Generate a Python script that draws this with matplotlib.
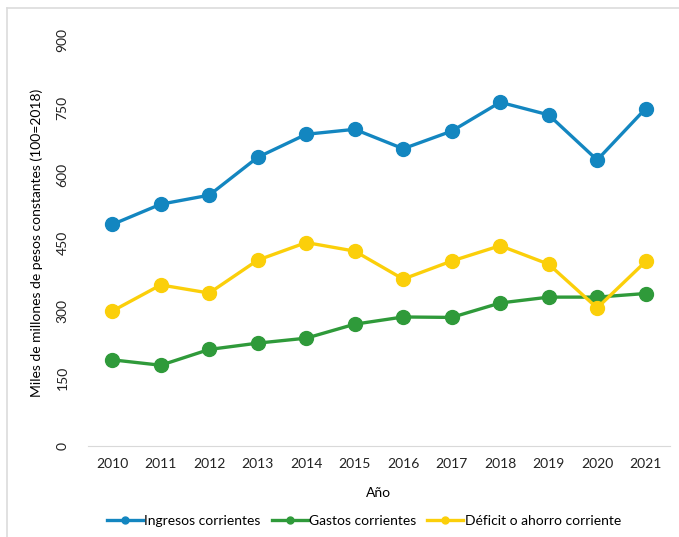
import matplotlib.pyplot as plt
from matplotlib.lines import Line2D

years = ["2010", "2011", "2012", "2013", "2014", "2015",
         "2016", "2017", "2018", "2019", "2020", "2021"]
ingresos = [491, 536, 556, 640, 691, 702, 659, 698, 762, 734, 634, 748]
gastos = [191, 179, 214, 228, 239, 270, 286, 285, 317, 330, 330, 338]
deficit = [299, 357, 339, 412, 451, 432, 370, 410, 444, 403, 306, 409]
yticks = [0, 150, 300, 450, 600, 750, 900]

plt.rcParams['font.family'] = ['Lato', 'DejaVu Sans']

fig = plt.figure(figsize=(6.79, 5.37), dpi=100)
ax = fig.add_axes([0.1296, 0.1695, 0.857, 0.756])

x = range(len(years))
ax.plot(x, ingresos, color="#1386c0", lw=2.4, marker="o", ms=10, label="Ingresos corrientes")
ax.plot(x, gastos, color="#2f9a3a", lw=2.4, marker="o", ms=10, label="Gastos corrientes")
ax.plot(x, deficit, color="#fbcf0a", lw=2.4, marker="o", ms=10, label="Déficit o ahorro corriente")

ax.set_xlim(-0.5, len(years) - 0.5)
ax.set_ylim(0, 900)
ax.set_xticks(list(x))
ax.set_xticklabels(years)
ax.set_yticks(yticks)
ax.set_yticklabels([str(t) for t in yticks], rotation=90, va="center")
ax.tick_params(axis="both", length=0, labelsize=10, colors="#222222")
ax.tick_params(axis="y", pad=14)
ax.tick_params(axis="x", pad=9)

for s in ["top", "right", "left"]:
    ax.spines[s].set_visible(False)
ax.spines["bottom"].set_color("#d9d9d9")

ax.set_xlabel("Año", fontsize=10, labelpad=12)
ax.set_ylabel("Miles de millones de pesos constantes (100=2018)", fontsize=10, labelpad=10)

ax.legend(loc="upper center", bbox_to_anchor=(0.474, -0.14), ncol=3, frameon=False,
          fontsize=10, markerscale=0.5, handlelength=2.6, handletextpad=0.1, columnspacing=0.8)

# outer frame: only left and top edges visible in the reference
fig.add_artist(Line2D([7 / 679, 7 / 679], [0, 1 - 8 / 537], transform=fig.transFigure,
                      color="#dcdcdc", lw=1.2))
fig.add_artist(Line2D([7 / 679, 1], [1 - 8 / 537, 1 - 8 / 537], transform=fig.transFigure,
                      color="#dcdcdc", lw=1.2))

fig.savefig("out.png", dpi=100)
